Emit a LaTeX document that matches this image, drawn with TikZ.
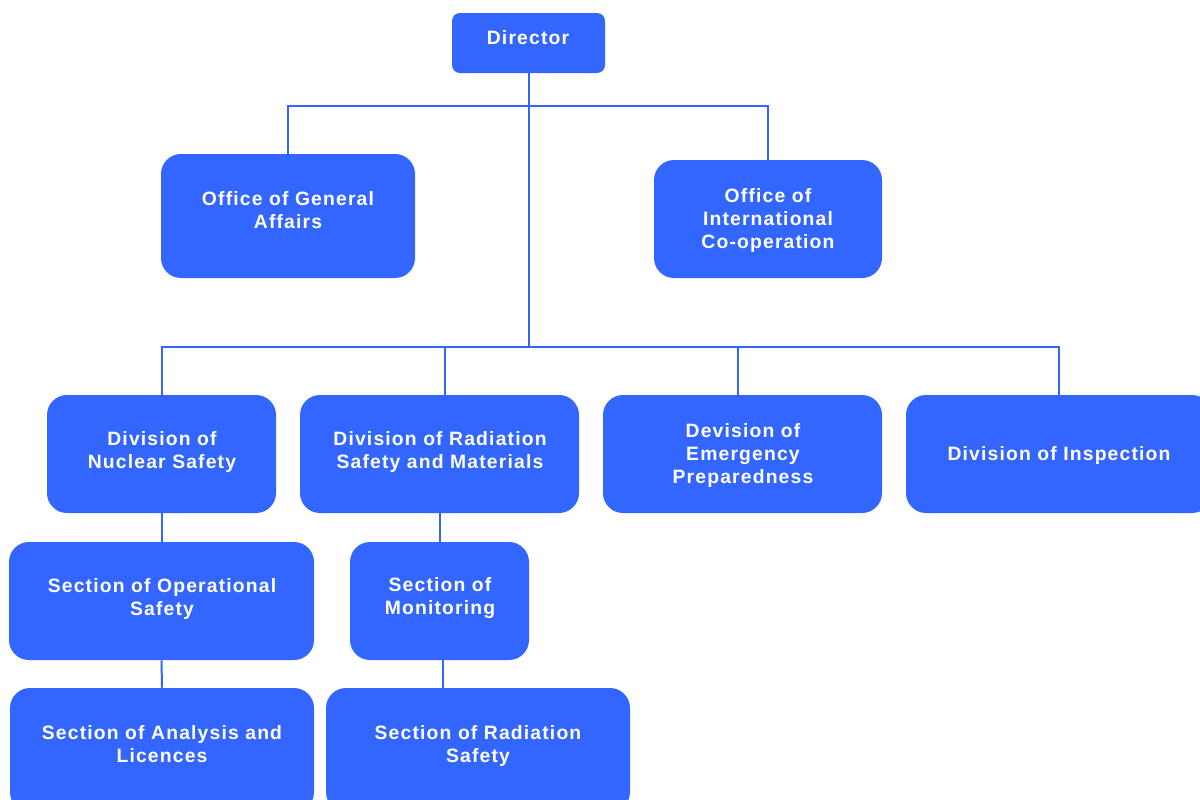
\documentclass[tikz,border=0pt]{standalone}
\usepackage{fontspec}
\newfontfamily\orgfont{Liberation Sans}[LetterSpace=6]
\definecolor{orgblue}{HTML}{3366FF}
\begin{document}
\begin{tikzpicture}[x=0.75pt,y=-0.75pt,
  orgbox/.style={fill=orgblue, draw=none, rounded corners=15pt, inner sep=0pt},
  dims/.style 2 args={minimum width=#1*0.75pt, minimum height=#2*0.75pt},
  lbl/.style={text=white, align=center, inner sep=0pt,
    font=\orgfont\bfseries\fontsize{14.5}{17.25}\selectfont},
  link/.style={draw=orgblue, line width=1.5pt}]
\useasboundingbox (0,0) rectangle (1200,800);
\clip (0,0) rectangle (1200,800);

% boxes
\node[orgbox, rounded corners=6pt, dims={153}{60}] (dir) at (528.5,43) {};
\node[orgbox, dims={254}{124}] (oga)  at (288,216) {};
\node[orgbox, dims={228}{118}] (oic)  at (768,219) {};
\node[orgbox, dims={229}{118}] (dns)  at (161.5,454) {};
\node[orgbox, dims={279}{118}] (drsm) at (439.5,454) {};
\node[orgbox, dims={279}{118}] (dep)  at (742.5,454) {};
\node[orgbox, dims={306}{118}] (di)   at (1059,454) {};
\node[orgbox, dims={305}{118}] (sos)  at (161.5,601) {};
\node[orgbox, dims={179}{118}] (sm)   at (439.5,601) {};
\node[orgbox, dims={304}{124}] (sal)  at (162,750) {};
\node[orgbox, dims={304}{124}] (srs)  at (478,750) {};

% labels
\node[lbl] (dir-t)  at (528,38)    {Director};
\node[lbl] (oga-t)  at (288,210)   {Office of General\\Affairs};
\node[lbl] (oic-t)  at (768,220)   {Office of\\International\\Co-operation};
\node[lbl] (dns-t)  at (162,451.5) {Division of\\Nuclear Safety};
\node[lbl] (drsm-t) at (440,451.5) {Division of Radiation\\Safety and Materials};
\node[lbl] (dep-t)  at (743,455)   {Devision of\\Emergency\\Preparedness};
\node[lbl] (di-t)   at (1059,455.5){Division of Inspection};
\node[lbl] (sos-t)  at (162,598.5) {Section of Operational\\Safety};
\node[lbl] (sm-t)   at (440,598.5) {Section of\\Monitoring};
\node[lbl] (sal-t)  at (162,744)   {Section of Analysis and\\Licences};
\node[lbl] (srs-t)  at (478,745.5) {Section of Radiation\\Safety};

% junctions of the trunk line
\coordinate (j1) at (528.5,106);
\coordinate (j2) at (528.5,347);

% connectors
\draw[link] (dir.south) -- (j2);
\draw[link] (oga.north) |- (j1) -| (oic.north);
\draw[link] (dns.north) |- (j2) -| (di.north);
\draw[link] ([xshift=4.125pt]drsm.north) -- ([xshift=4.125pt]drsm.north |- j2);
\draw[link] ([xshift=-3.375pt]dep.north) -- ([xshift=-3.375pt]dep.north |- j2);
\draw[link] (dns.south) -- (sos.north);
\draw[link] (drsm.south) -- (sm.north);
\draw[link] (sos.south) -- (sal.north);
\draw[link] ([xshift=2.625pt]sm.south) -- ([xshift=2.625pt]sm.south |- srs.north);
\end{tikzpicture}
\end{document}
